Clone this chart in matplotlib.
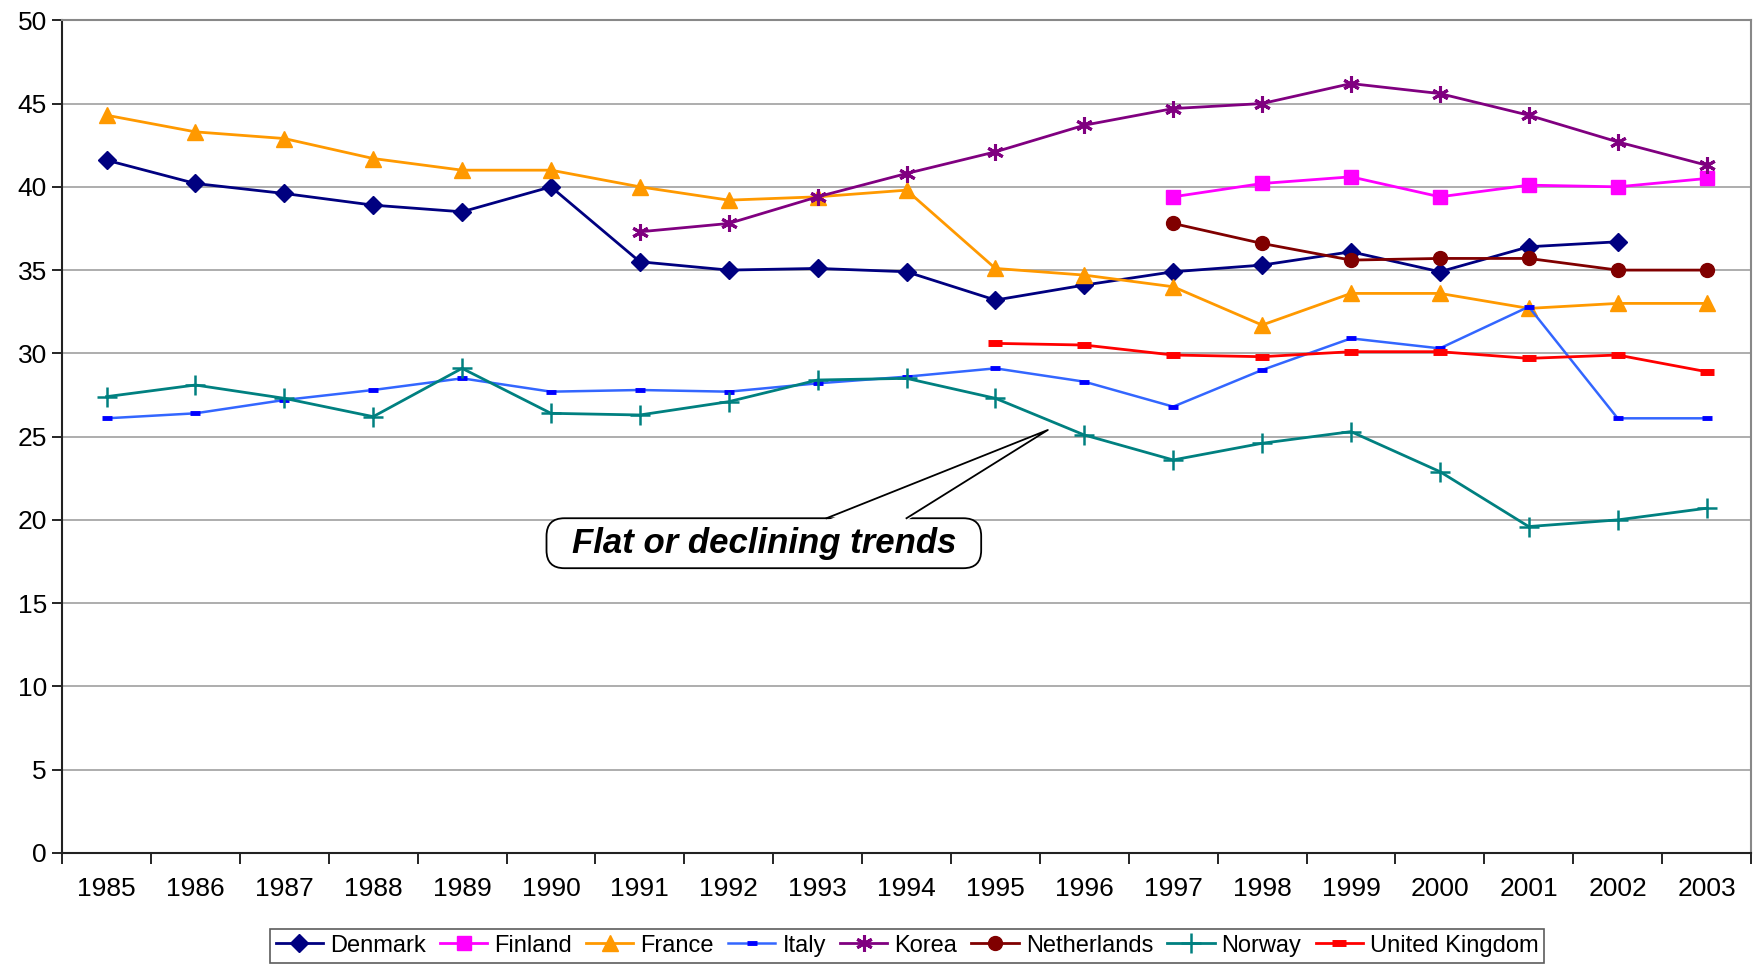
import numpy as np
import matplotlib
matplotlib.use("Agg")
import matplotlib.pyplot as plt
from matplotlib.patches import FancyBboxPatch, Polygon

years = [str(y) for y in range(1985, 2004)]
nan = np.nan

denmark = [41.6, 40.2, 39.6, 38.9, 38.5, 40.0, 35.5, 35.0, 35.1, 34.9,
           33.2, 34.1, 34.9, 35.3, 36.1, 34.9, 36.4, 36.7, nan]
finland = [nan] * 12 + [39.4, 40.2, 40.6, 39.4, 40.1, 40.0, 40.5]
france = [44.3, 43.3, 42.9, 41.7, 41.0, 41.0, 40.0, 39.2, 39.4, 39.8,
          35.1, 34.7, 34.0, 31.7, 33.6, 33.6, 32.7, 33.0, 33.0]
italy = [26.1, 26.4, 27.2, 27.8, 28.5, 27.7, 27.8, 27.7, 28.2, 28.6,
         29.1, 28.3, 26.8, 29.0, 30.9, 30.3, 32.8, 26.1, 26.1]
korea = [nan] * 6 + [37.3, 37.8, 39.4, 40.8, 42.1, 43.7, 44.7, 45.0,
                     46.2, 45.6, 44.3, 42.7, 41.3]
netherlands = [nan] * 12 + [37.8, 36.6, 35.6, 35.7, 35.7, 35.0, 35.0]
norway = [27.4, 28.1, 27.3, 26.2, 29.1, 26.4, 26.3, 27.1, 28.4, 28.5,
          27.3, 25.1, 23.6, 24.6, 25.3, 22.9, 19.6, 20.0, 20.7]
uk = [nan] * 10 + [30.6, 30.5, 29.9, 29.8, 30.1, 30.1, 29.7, 29.9, 28.9]

callout_text = "Flat or declining trends"

plt.rcParams["font.family"] = ["Liberation Sans", "DejaVu Sans"]

fig = plt.figure(figsize=(17.58, 9.66), dpi=100)
ax = fig.add_axes([0.0353, 0.117, 0.9607, 0.862])

x = np.arange(len(years))

# (data, label, line colour, marker, marker colour, markersize, mew)
series = [
    (denmark, "Denmark", "#000080", "D", "#000080", 9, 1),
    (finland, "Finland", "#FF00FF", "s", "#FF00FF", 10, 1),
    (france, "France", "#FF9900", "^", "#FF9900", 12, 1),
    (italy, "Italy", "#3366FF", "_", "#0000FF", 7, 3.5),
    (korea, "Korea", "#800080", (6, 2, 0), "#800080", 12, 2.2),
    (netherlands, "Netherlands", "#800000", "o", "#800000", 10, 1),
    (norway, "Norway", "#008080", "+", "#008080", 14, 1.8),
    (uk, "United Kingdom", "#FF0000", "_", "#FF0000", 10, 5),
]

for vals, lab, col, mk, mcol, ms, mew in series:
    ax.plot(x, vals, color=col, lw=2 if lab != "Italy" else 1.8,
            marker=mk, markersize=ms, markerfacecolor=mcol,
            markeredgecolor=mcol, markeredgewidth=mew, label=lab,
            zorder=3)

ax.set_xlim(-0.5, len(years) - 0.5)
ax.set_ylim(0, 50)
ax.set_yticks(np.arange(0, 51, 5))
ax.set_xticks(x)
ax.set_xticklabels(years)
ax.set_xticks(np.arange(-0.5, len(years), 1), minor=True)
ax.tick_params(axis="x", which="major", length=0, pad=17, labelsize=19)
ax.tick_params(axis="x", which="minor", length=8, width=1.2, direction="out")
ax.tick_params(axis="y", length=7, width=1.2, direction="out", labelsize=19, pad=4)

ax.grid(axis="y", color="#a0a0a0", lw=1.2, zorder=0)
ax.set_axisbelow(True)
for s in ["top", "right"]:
    ax.spines[s].set_color("#888888")
    ax.spines[s].set_linewidth(1.5)
for s in ["left", "bottom"]:
    ax.spines[s].set_color("#222222")
    ax.spines[s].set_linewidth(1.5)

# callout box with pointer
bx0, bx1, by0, by1 = 4.95, 9.84, 17.1, 20.1
box = FancyBboxPatch((bx0, by0), bx1 - bx0, by1 - by0,
                     boxstyle="round,pad=0,rounding_size=0.2",
                     mutation_aspect=5.34, fc="white", ec="black", lw=1.3,
                     zorder=5)
ax.add_patch(box)
tip = (10.59, 25.4)
base_l, base_r = 8.1, 9.0
ax.add_patch(Polygon([(base_l, by1 - 0.15), tip, (base_r, by1 - 0.15)],
                     closed=True, fc="white", ec="none", zorder=6))
ax.plot([base_l, tip[0], base_r], [by1, tip[1], by1], color="black",
        lw=1.3, zorder=7)
ax.text((bx0 + bx1) / 2, (by0 + by1) / 2, callout_text, ha="center",
        va="center", fontsize=25, fontweight="bold", fontstyle="italic",
        zorder=8)

leg = fig.legend(loc="center", bbox_to_anchor=(0.516, 0.021), ncol=8,
                 frameon=True, fancybox=False, fontsize=17,
                 handlelength=2.0, handletextpad=0.3, columnspacing=0.6,
                 borderpad=0.25)
leg.get_frame().set_edgecolor("#333333")
leg.get_frame().set_linewidth(1.2)

fig.savefig("out.png", dpi=100)
